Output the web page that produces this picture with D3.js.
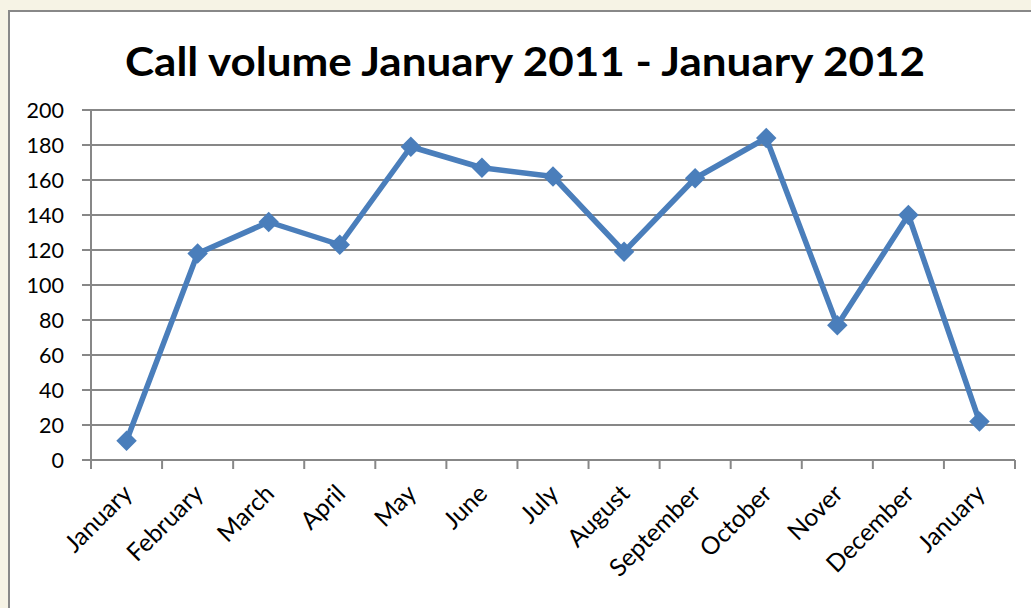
<!DOCTYPE html>
<html>
<head>
<meta charset="utf-8">
<script src="https://cdn.jsdelivr.net/npm/d3@7"></script>
<style>
  html, body { margin: 0; padding: 0; background: #f6f3e5; }
  svg { display: block; }
</style>
</head>
<body>
<svg id="chart" width="1031" height="608"></svg>
<script>
// Monthly call volume, January 2011 through January 2012
const months = ["January", "February", "March", "April", "May", "June", "July",
                "August", "September", "October", "Nover", "December", "January"];
const calls = [11, 118, 136, 123, 179, 167, 162, 119, 161, 184, 77, 140, 22];
const yTicks = [0, 20, 40, 60, 80, 100, 120, 140, 160, 180, 200];
const titleText = "Call volume January 2011 - January 2012";

const W = 1031, H = 608;
const svg = d3.select("#chart");
const font = "Lato, 'Open Sans', sans-serif";
const gridColor = "#878787";
const lineColor = "#4a7ebb";

// chart frame
svg.append("rect").attr("x", 0).attr("y", 0).attr("width", W).attr("height", H).attr("fill", "#f6f3e5");
svg.append("rect")
  .attr("x", 9).attr("y", 11).attr("width", W + 20).attr("height", H + 20)
  .attr("fill", "#ffffff").attr("stroke", "#888888").attr("stroke-width", 2);

// title
svg.append("text")
  .attr("x", 525).attr("y", 76)
  .attr("text-anchor", "middle")
  .attr("font-family", font).attr("font-weight", "bold")
  .attr("font-size", 40)
  .attr("textLength", 800).attr("lengthAdjust", "spacingAndGlyphs")
  .attr("fill", "#000").text(titleText);

const plot = { left: 91, right: 1015, top: 110, bottom: 460 };

// one band per month, points sit in the band centres
const idx = months.map((m, i) => i);
const x = d3.scaleBand().domain(idx).range([plot.left, plot.right]);
const y = d3.scaleLinear().domain([0, 200]).range([plot.bottom, plot.top]);

// horizontal gridlines + left tick marks
svg.append("g").selectAll("line").data(yTicks).join("line")
  .attr("x1", plot.left - 9).attr("x2", plot.right)
  .attr("y1", d => y(d)).attr("y2", d => y(d))
  .attr("stroke", gridColor).attr("stroke-width", 2);

// y axis line
svg.append("line")
  .attr("x1", plot.left).attr("x2", plot.left)
  .attr("y1", plot.top).attr("y2", plot.bottom + 9)
  .attr("stroke", gridColor).attr("stroke-width", 2);

// y tick labels
svg.append("g").selectAll("text").data(yTicks).join("text")
  .attr("x", 64).attr("y", d => y(d)).attr("dy", "0.36em")
  .attr("text-anchor", "end")
  .attr("font-family", font).attr("font-size", 21.5).attr("fill", "#000")
  .text(d => d);

// x tick marks at band boundaries
const bounds = idx.map(i => x(i)).concat([x(idx[idx.length - 1]) + x.bandwidth()]);
svg.append("g").selectAll("line").data(bounds).join("line")
  .attr("x1", d => d).attr("x2", d => d)
  .attr("y1", plot.bottom).attr("y2", plot.bottom + 9)
  .attr("stroke", gridColor).attr("stroke-width", 2);

// rotated month labels
svg.append("g").selectAll("text").data(idx).join("text")
  .attr("transform", i => `translate(${x(i) + x.bandwidth() / 2 + 1},${plot.bottom + 29}) rotate(-45)`)
  .attr("dy", "0.35em")
  .attr("text-anchor", "end")
  .attr("font-family", font).attr("font-size", 24.5).attr("fill", "#000")
  .text(i => months[i]);

// series line
const cx = i => x(i) + x.bandwidth() / 2;
svg.append("path")
  .datum(idx)
  .attr("d", d3.line().x(i => cx(i)).y(i => y(calls[i])))
  .attr("fill", "none").attr("stroke", lineColor)
  .attr("stroke-width", 5.5).attr("stroke-linejoin", "round");

// diamond markers
const diamond = d3.symbol().type(d3.symbolSquare).size(210);
svg.append("g").selectAll("path").data(idx).join("path")
  .attr("transform", i => `translate(${cx(i)},${y(calls[i])}) rotate(45)`)
  .attr("d", diamond)
  .attr("fill", lineColor);
</script>
</body>
</html>
